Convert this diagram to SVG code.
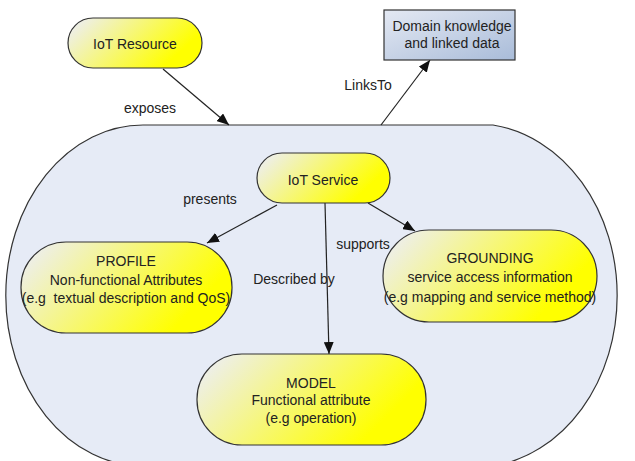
<svg xmlns="http://www.w3.org/2000/svg" width="635" height="461" viewBox="0 0 635 461">
<defs>
<linearGradient id="yel" x1="0" y1="0.3" x2="1" y2="0.7">
<stop offset="0" stop-color="#eeefe6"/>
<stop offset="0.85" stop-color="#ffff00"/>
<stop offset="1" stop-color="#ffff00"/>
</linearGradient>
<linearGradient id="blu" x1="0" y1="0" x2="1" y2="1">
<stop offset="0" stop-color="#e4e9f3"/>
<stop offset="1" stop-color="#a9bcd9"/>
</linearGradient>
<marker id="ah" markerWidth="12" markerHeight="10" refX="12" refY="5" orient="auto" markerUnits="userSpaceOnUse">
<path d="M0,0 L12,5 L0,10 Z" fill="#111"/>
</marker>
<style>
.node{fill:url(#yel);stroke:#333;stroke-width:1.2}
.t{font-family:"Liberation Sans",Arial,sans-serif;font-size:14px;fill:#222;text-anchor:middle}
.edge{stroke:#222;stroke-width:1.2;fill:none;marker-end:url(#ah)}
</style>
</defs>
<rect width="635" height="461" fill="#ffffff"/>
<g id="container">
<path d="M143,125 H493 A143,172 0 0 1 493,466 H143 A136,169 0 0 1 143,125 Z" fill="#e6ebf6" stroke="#333" stroke-width="1.2"/>
</g>
<g id="connectors">
<line class="edge" x1="163" y1="69" x2="229" y2="125"/>
<line class="edge" x1="381" y1="125" x2="430" y2="60"/>
<line class="edge" x1="277" y1="205" x2="207" y2="243"/>
<line class="edge" x1="368" y1="203" x2="415" y2="231"/>
<line class="edge" x1="325" y1="203" x2="329" y2="354"/>
<text class="t" x="150" y="113">exposes</text>
<text class="t" x="368" y="90">LinksTo</text>
<text class="t" x="210" y="204">presents</text>
<text class="t" x="363" y="249">supports</text>
<text class="t" x="294" y="284">Described by</text>
</g>
<g id="iot-resource">
<rect class="node" x="68" y="18" width="134" height="50" rx="25"/>
<text class="t" x="135" y="49">IoT Resource</text>
</g>
<g id="domain">
<rect x="384" y="10" width="131" height="50" fill="url(#blu)" stroke="#333" stroke-width="1.2"/>
<text class="t" x="452" y="31">Domain knowledge</text>
<text class="t" x="452" y="48">and linked data</text>
</g>
<g id="iot-service">
<rect class="node" x="257" y="153" width="133" height="50" rx="25"/>
<text class="t" x="323" y="185">IoT Service</text>
</g>
<g id="profile">
<rect class="node" x="21" y="242" width="211" height="91" rx="45"/>
<text class="t" x="126" y="266">PROFILE</text>
<text class="t" x="126" y="285">Non-functional Attributes</text>
<text class="t" x="126" y="303">(e.g&#160; textual description and QoS)</text>
</g>
<g id="grounding">
<rect class="node" x="383" y="230" width="214" height="92" rx="46"/>
<text class="t" x="490" y="263">GROUNDING</text>
<text class="t" x="490" y="282">service access information</text>
<text class="t" x="490" y="302">(e.g mapping and service method)</text>
</g>
<g id="model">
<rect class="node" x="197" y="354" width="229" height="91" rx="45"/>
<text class="t" x="311" y="388">MODEL</text>
<text class="t" x="311" y="405">Functional attribute</text>
<text class="t" x="311" y="423">(e.g operation)</text>
</g>
</svg>
